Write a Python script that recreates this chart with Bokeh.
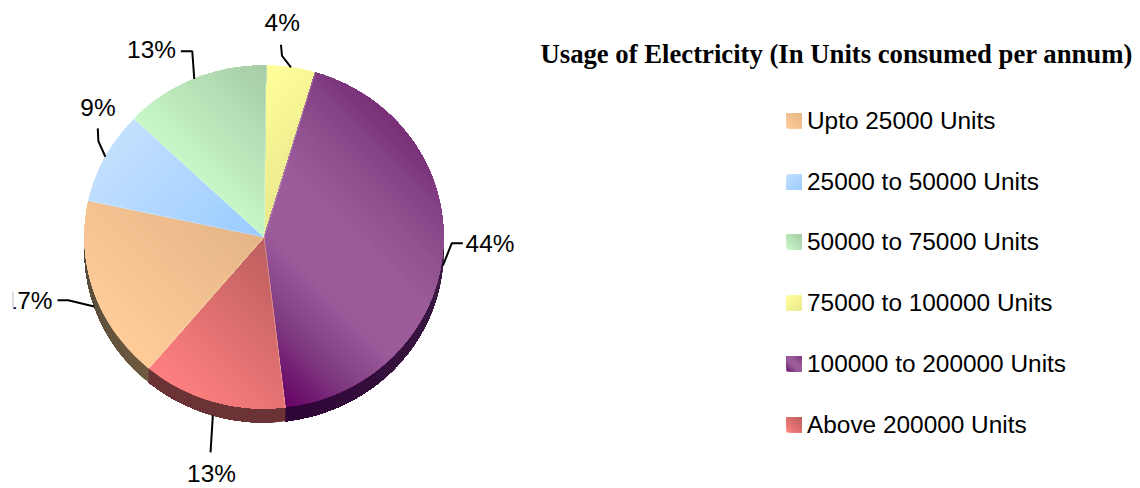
import math
from bokeh.plotting import figure
from bokeh.models import Range1d, ColumnDataSource
from bokeh.embed import file_html
from bokeh.resources import INLINE
from bokeh.core.properties import value

# ---- data ----
title = "Usage of Electricity (In Units consumed per annum)"
categories = ["Upto 25000 Units", "25000 to 50000 Units", "50000 to 75000 Units",
              "75000 to 100000 Units", "100000 to 200000 Units", "Above 200000 Units"]
shares = [17.3, 8.7, 13.1, 4.4, 43.5, 13.0]
share_labels = ["17%", "9%", "13%", "4%", "44%", "13%"]

# ---- style ----
draw_order = [3, 4, 5, 0, 1, 2]  # clockwise from the top
start_share = 0.2
gradient_dir = [(1, -1), (1, 1), (1, -1), (1, 1), (1, -1), (1, -1)]
gradient_stops = [
    ["#FFCC99", "#E5B587"],
    ["#C4E0FF", "#99CCFF"],
    ["#C8F8C8", "#A6CCA6"],
    ["#FFFF99", "#E8E88E"],
    ["#660066", "#7F3A80", "#9C5C9C", "#9C5C9C", "#8C4C8C", "#783078"],
    ["#FF8080", "#BD5F5F"],
]
wall_stops = [
    ["#6E5A40", "#4A4436"],
    ["#555555", "#555555"],
    ["#555555", "#555555"],
    ["#555555", "#555555"],
    ["#4A3550", "#2E0536"],
    ["#6B3335", "#6B3335"],
]
CX, CY, RX, RY, DEPTH = 263.5, 236.5, 179.5, 171.5, 14
BANDS = 72

leader_elbow = {0: (-26, -6.3), 1: (-7, -15.7), 2: (-2, -27.7), 3: (-9, -11.7), 4: (9, -22.3), 5: None}
leader_end = {0: (-36.7, -6.3), 1: (-7.6, -28.4), 2: (-13.4, -27.7), 3: (-10, -22.7), 4: (20, -22.3), 5: (-2.3, 37)}
label_pos = {0: (27.5, 300), 1: (97.5, 106.5), 2: (151, 48.5), 3: (281.7, 22), 4: (489.5, 243), 5: (211, 472.5)}
legend_text_x, legend_box_x, legend_box = 806.5, 786, 15
legend_y = [120.5, 181.5, 241.5, 302.5, 363.5, 424.5]
legend_text_shift = -1


def hex_rgb(c):
    return tuple(int(c[i:i + 2], 16) for i in (1, 3, 5))


def ramp(stops, f):
    f = max(0.0, min(1.0, f)) * (len(stops) - 1)
    i = min(int(f), len(stops) - 2)
    a, b = hex_rgb(stops[i]), hex_rgb(stops[i + 1])
    u = f - i
    return "#%02x%02x%02x" % tuple(round(a[k] + (b[k] - a[k]) * u) for k in range(3))


def clip(poly, nx, ny, c):
    """Clip a convex polygon to n.p >= c."""
    out = []
    for i in range(len(poly)):
        p, q = poly[i], poly[(i + 1) % len(poly)]
        dp = nx * p[0] + ny * p[1] - c
        dq = nx * q[0] + ny * q[1] - c
        if dp >= 0:
            out.append(p)
        if dp * dq < 0:
            u = dp / (dp - dq)
            out.append((p[0] + (q[0] - p[0]) * u, p[1] + (q[1] - p[1]) * u))
    return out


def point(t, extra=0):
    return CX + RX * math.sin(t), CY - RY * math.cos(t) + extra


def gradient_bands(poly, d, stops, bands=BANDS):
    """Painter's order: each band runs on to the far end, so no seams show."""
    n = math.hypot(*d)
    nx, ny = d[0] / n, d[1] / n
    proj = [nx * p[0] + ny * p[1] for p in poly]
    lo, hi = min(proj), max(proj)
    res = []
    for b in range(bands):
        part = poly if b == 0 else clip(poly, nx, ny, lo + (hi - lo) * b / bands)
        if len(part) >= 3:
            res.append((part, ramp(stops, (b + 0.5) / bands)))
    return res


top = dict(xs=[], ys=[], c=[])
wall = dict(xs=[], ys=[], c=[])
edges_x, edges_y = [], []
lead_x, lead_y = [], []

cum = start_share
total = sum(shares)
for idx in draw_order:
    t0 = 2 * math.pi * cum / total
    cum += shares[idx]
    t1 = 2 * math.pi * cum / total
    steps = max(8, int((t1 - t0) * 60))
    arc = [t0 + (t1 - t0) * k / steps for k in range(steps + 1)]
    poly = [(CX, CY)] + [point(t) for t in arc]
    for part, col in gradient_bands(poly, gradient_dir[idx], gradient_stops[idx]):
        top["xs"].append([q[0] for q in part])
        top["ys"].append([q[1] for q in part])
        top["c"].append(col)
    visible = [a for a in arc if math.cos(a) <= 0.05]
    for k in range(len(visible) - 1):
        rest = visible[k:]
        f = (rest[0] - t0) / (t1 - t0)
        q = [point(a) for a in rest] + [point(a, DEPTH) for a in reversed(rest)]
        wall["xs"].append([v[0] for v in q])
        wall["ys"].append([v[1] for v in q])
        wall["c"].append(ramp(wall_stops[idx], f))
    edges_x.append([CX, point(t0)[0]])
    edges_y.append([CY, point(t0)[1]])
    # leader line, hung on the slice's mid angle
    mid = (t0 + t1) / 2
    extra = DEPTH if math.cos(mid) < 0.1 else 0
    ax, ay = point(mid, extra)
    path = [(ax, ay)]
    if leader_elbow[idx]:
        path.append((ax + leader_elbow[idx][0], ay + leader_elbow[idx][1]))
    path.append((ax + leader_end[idx][0], ay + leader_end[idx][1]))
    lead_x.append([v[0] for v in path])
    lead_y.append([v[1] for v in path])

p = figure(width=1140, height=488, output_backend="svg", toolbar_location=None,
           x_range=Range1d(0, 1140), y_range=Range1d(488, 0),
           min_border=0, outline_line_color=None, background_fill_color="white",
           border_fill_color="white")
p.xaxis.visible = False
p.yaxis.visible = False
p.grid.visible = False

p.patches("xs", "ys", fill_color="c", line_color=None, source=ColumnDataSource(wall))
p.patches("xs", "ys", fill_color="c", line_color=None, source=ColumnDataSource(top))
p.multi_line(edges_x, edges_y, line_color="#ffffff", line_alpha=0.35, line_width=0.8)
p.multi_line(lead_x, lead_y, line_color="black", line_width=2)

FONT = value("Liberation Sans")
p.text([label_pos[i][0] for i in range(6)], [label_pos[i][1] for i in range(6)],
       text=share_labels, text_font=FONT, text_font_size="24.4px", text_color="black",
       text_align="center", text_baseline="middle")
# the reference crops its left-most label just inside the chart's edge
p.quad(left=[0], right=[13], top=[285], bottom=[315], fill_color="white", line_color=None)
p.segment([12.5], [291], [12.5], [308], line_color="#bbbbbb", line_width=1)

p.text([540], [53.5], text=[title], text_font=value("Liberation Serif"), text_font_style="bold",
       text_font_size="26.7px", text_color="black", text_align="left", text_baseline="middle")

leg = dict(xs=[], ys=[], c=[])
for i, (cat, y) in enumerate(zip(categories, legend_y)):
    x0, y0 = legend_box_x, y - legend_box / 2
    sq = [(x0, y0), (x0 + legend_box, y0), (x0 + legend_box, y0 + legend_box), (x0, y0 + legend_box)]
    for part, col in gradient_bands(sq, gradient_dir[i], gradient_stops[i], 16):
        leg["xs"].append([q[0] for q in part])
        leg["ys"].append([q[1] for q in part])
        leg["c"].append(col)
p.patches("xs", "ys", fill_color="c", line_color=None, source=ColumnDataSource(leg))
p.text([legend_text_x] * 6, [y + legend_text_shift for y in legend_y], text=categories, text_font=FONT,
       text_font_size="24.4px", text_color="black", text_align="left", text_baseline="middle")

open("out.html", "w").write(file_html(p, INLINE))
